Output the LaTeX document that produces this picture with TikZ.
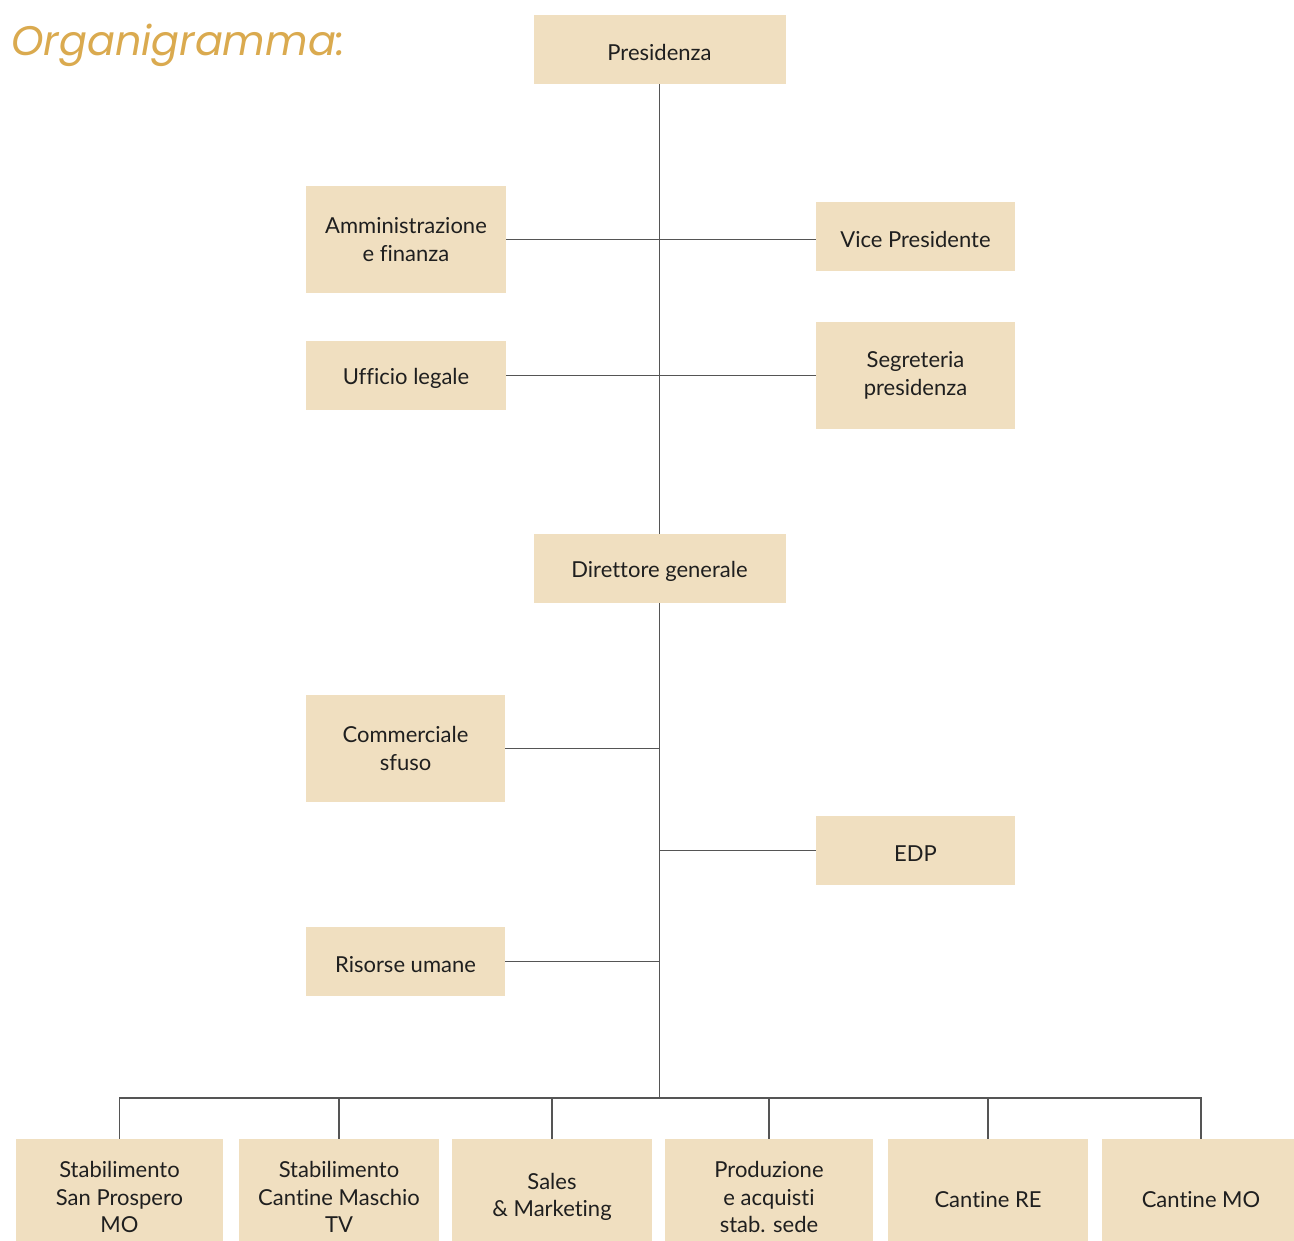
\documentclass[tikz,border=0pt]{standalone}
\usepackage{fontspec}
\setmainfont{Lato}[Ligatures={NoCommon}]
\newfontfamily\titlefont{Poppins}
\definecolor{boxfill}{HTML}{F0DFC0}
\definecolor{titlecol}{HTML}{DAAA4F}
\definecolor{linecol}{HTML}{555555}
\begin{document}
\begin{tikzpicture}[x=0.75pt,y=-0.75pt,
  box/.style={fill=boxfill, draw=none, align=center, inner sep=0pt,
    font=\fontsize{16.5}{20.5}\selectfont, text=black!88,
    execute at begin node={\rule{0pt}{16pt}}},
  bw/.style={minimum width=#1*0.75pt},
  bh/.style={minimum height=#1*0.75pt},
  conn/.style={draw=linecol, line width=1pt}]
\useasboundingbox (0,0) rectangle (1294,1240);
\node[anchor=west, text=titlecol, inner sep=0pt, font=\titlefont\itshape\fontsize{31}{36}\selectfont] (title) at (11,45) {Organigramma:};
% top part
\node[box,bw=252,bh=69] (pres) at (659.5,49.5) {Presidenza};
\node[box,bw=200,bh=107] (amm) at (406,239.5) {Amministrazione\\e finanza};
\node[box,bw=199,bh=69] (vice) at (915.5,236.5) {Vice Presidente};
\node[box,bw=200,bh=69] (uff) at (406,375.5) {Ufficio legale};
\node[box,bw=199,bh=107] (seg) at (915.5,375.5) {Segreteria\\presidenza};
\node[box,bw=252,bh=69] (dir) at (659.5,568.5) {Direttore generale};
\node[box,bw=199,bh=107] (comm) at (405.5,748.5) {Commerciale\\sfuso};
\node[box,bw=199,bh=69] (edp) at (915.5,850.5) {EDP};
\node[box,bw=199,bh=69] (ris) at (405.5,961.5) {Risorse umane};
% bottom row
\node[box,bw=207,bh=116] (b1) at (119.5,1197) {Stabilimento\\San Prospero\\MO};
\node[box,bw=200,bh=116] (b2) at (339,1197) {Stabilimento\\Cantine Maschio\\TV};
\node[box,bw=200,bh=116] (b3) at (552,1197) {Sales\\\& Marketing};
\node[box,bw=208,bh=116] (b4) at (769,1197) {Produzione\\e acquisti\\stab. sede};
\node[box,bw=200,bh=116] (b5) at (988,1197) {Cantine RE};
\node[box,bw=198,bh=116] (b6) at (1201,1197) {Cantine MO};
\coordinate (bus) at (dir.south |- 0,1098);
% connectors
\draw[conn] (pres.south) -- (dir.north);
\draw[conn] (amm.east) -- (amm.east -| vice.west);
\draw[conn] (uff.east) -- (seg.west);
\draw[conn] (comm.east) -- (comm.east -| dir.south);
\draw[conn] (edp.west -| dir.south) -- (edp.west);
\draw[conn] (ris.east) -- (ris.east -| dir.south);
\draw[conn] (dir.south) -- (bus);
\draw[conn] (b1.north) |- (bus) -| (b6.north);
\draw[conn] (b2.north) -- (b2.north |- bus);
\draw[conn] (b3.north) -- (b3.north |- bus);
\draw[conn] (b4.north) -- (b4.north |- bus);
\draw[conn] (b5.north) -- (b5.north |- bus);
\end{tikzpicture}
\end{document}
